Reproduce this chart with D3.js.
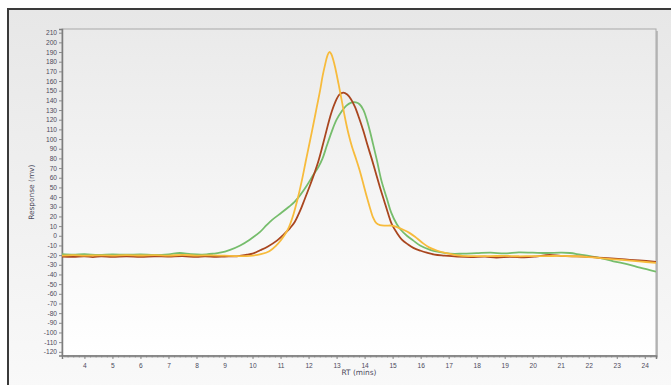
<!DOCTYPE html>
<html>
<head>
  <meta charset="utf-8">
  <style>
    body { margin: 0; background: #fff; }
    svg { display: block; font-family: "DejaVu Sans", Verdana, sans-serif; }
    .tick text { fill: #4c4a5c; font-size: 6.6px; }
    .axis-title { fill: #4c4a5c; font-size: 7.4px; }
  </style>
</head>
<body>
  <svg id="chart" width="671" height="385"></svg>

  <script src="https://d3js.org/d3.v7.min.js"></script>
  <script>
    // [RT (mins), Response (mv)]
    const yellowSeries = [
      [3.2,-20.5],[3.6,-20],[4.0,-20.6],[4.5,-20.2],[5.0,-20.5],[5.5,-20],[6.0,-20.4],[6.5,-20],
      [7.0,-20.5],[7.5,-19.8],[8.0,-20.5],[8.5,-20.2],[9.0,-20.6],[9.5,-21],[9.9,-20.8],[10.3,-19],
      [10.6,-16],[10.85,-10],[11.0,-5],[11.15,1],[11.3,9],[11.46,22],[11.6,37],[11.76,57],
      [11.9,77],[12.05,98],[12.17,115],[12.3,134],[12.41,150],[12.5,165],[12.59,177],[12.67,186],
      [12.74,190],[12.81,188],[12.88,182],[12.95,174],[13.07,157],[13.19,139],[13.3,122],[13.42,106],
      [13.55,92],[13.7,79],[13.84,66],[13.96,53],[14.08,40],[14.2,28],[14.3,19],[14.42,13],
      [14.55,11],[14.75,10.5],[14.97,10.5],[15.2,8.5],[15.4,6],[15.6,3],[15.8,-1],[16.05,-7],
      [16.3,-12],[16.6,-15.5],[16.93,-18],[17.4,-20.5],[18,-21],[18.5,-21],[19,-20.8],[19.5,-21.2],
      [20,-21],[20.5,-21],[21,-20.8],[21.5,-21.2],[22,-22],[22.6,-23.6],[23.2,-25],[23.8,-26.5],[24.4,-28]
    ];
    const brownSeries = [
      [3.2,-21.5],[3.6,-21.8],[4.0,-21.2],[4.3,-22],[4.6,-21.3],[5.0,-21.8],[5.5,-21.2],[6.0,-21.8],
      [6.5,-21.3],[7.0,-21.5],[7.5,-21],[8.0,-21.8],[8.3,-21.2],[8.7,-21.8],[9.0,-21.5],[9.5,-21],
      [9.8,-19.5],[10.0,-18.5],[10.27,-15],[10.55,-11],[10.87,-5],[11.1,1],[11.34,8],[11.5,14],
      [11.7,26],[11.85,37],[12.05,52],[12.2,64],[12.35,77],[12.5,93],[12.65,110],[12.8,126],
      [12.95,138],[13.1,146],[13.24,148],[13.38,146],[13.52,141],[13.66,133],[13.8,122],[13.96,108],
      [14.1,94],[14.26,79],[14.4,65],[14.55,50],[14.7,36],[14.85,22],[14.97,12],[15.15,3],
      [15.33,-4],[15.55,-9],[15.74,-12.5],[16.0,-15.5],[16.22,-17.5],[16.5,-19.5],[16.85,-20.5],[17.3,-21.5],
      [17.8,-22],[18.3,-21.5],[18.7,-22.5],[19.2,-21.8],[19.7,-22.3],[20.1,-21.5],[20.6,-19.8],[21.0,-20.8],
      [21.4,-21.3],[21.8,-21.5],[22.3,-22.5],[22.8,-23.5],[23.3,-24.5],[23.8,-25.5],[24.4,-27]
    ];
    const greenSeries = [
      [3.2,-19],[3.6,-19.5],[4.0,-19],[4.5,-19.8],[5.0,-19.2],[5.5,-19.6],[6.0,-19.3],[6.5,-19.8],
      [7.0,-19.2],[7.4,-17.8],[7.8,-19],[8.2,-19.5],[8.6,-18.5],[8.84,-17.5],[9.2,-14.5],[9.56,-10],
      [9.9,-4],[10.27,4],[10.5,11],[10.7,16.5],[11.04,24],[11.3,30],[11.5,35],[11.7,42],
      [11.94,52],[12.15,62],[12.35,71],[12.5,80],[12.65,93],[12.83,108],[13.0,120],[13.19,129],
      [13.35,134.5],[13.5,137.5],[13.69,138],[13.82,136],[13.96,130],[14.08,120],[14.2,107],[14.3,95],
      [14.44,78],[14.6,57],[14.8,38],[14.95,24],[15.15,12],[15.3,6],[15.51,0],[15.74,-5],
      [15.98,-10],[16.34,-14.5],[16.6,-16.5],[17.05,-18.5],[17.5,-18.5],[18.0,-18],[18.5,-17.5],[19.0,-18.2],
      [19.5,-17.2],[20.0,-17.5],[20.5,-17.8],[21.0,-17.5],[21.33,-17.8],[21.7,-19.5],[22.04,-21],[22.5,-23.5],
      [22.88,-26.4],[23.4,-29.5],[23.83,-33],[24.4,-37]
    ];
    const seriesColors = ['#f7bb3c', '#a9461f', '#76bd6c'];
    const xTicks = d3.range(4, 25);
    const yTicks = d3.range(-120, 211, 10);

    const svg = d3.select('#chart');
    const margin = { top: 29, right: 15, bottom: 29.5, left: 62 };
    const width = 671 - margin.left - margin.right;
    const height = 385 - margin.top - margin.bottom;

    const defs = svg.append('defs');
    const outerGrad = defs.append('linearGradient').attr('id', 'outerGrad')
      .attr('x1', 0).attr('y1', 0).attr('x2', 0).attr('y2', 1);
    outerGrad.append('stop').attr('offset', '0%').attr('stop-color', '#e7e7e7');
    outerGrad.append('stop').attr('offset', '100%').attr('stop-color', '#fafafa');
    const plotGrad = defs.append('linearGradient').attr('id', 'plotGrad')
      .attr('x1', 0).attr('y1', 0).attr('x2', 0).attr('y2', 1);
    plotGrad.append('stop').attr('offset', '0%').attr('stop-color', '#eaeaea');
    plotGrad.append('stop').attr('offset', '100%').attr('stop-color', '#ffffff');
    defs.append('clipPath').attr('id', 'clip')
      .append('rect').attr('width', width).attr('height', height);

    // outer panel
    svg.append('rect')
      .attr('x', 8).attr('y', 9).attr('width', 680).attr('height', 400)
      .attr('fill', 'url(#outerGrad)')
      .attr('stroke', '#3a3a3a').attr('stroke-width', 2);

    const g = svg.append('g').attr('transform', `translate(${margin.left},${margin.top})`);

    // plot area with shadow on the right
    g.append('rect')
      .attr('x', 2).attr('y', 2).attr('width', width).attr('height', height)
      .attr('fill', '#bdbdbd');
    g.append('rect')
      .attr('width', width).attr('height', height)
      .attr('fill', 'url(#plotGrad)')
      .attr('stroke', '#a8a8a8').attr('stroke-width', 1);

    const x = d3.scaleLinear().domain([3.2, 24.4]).range([0, width]);
    const y = d3.scaleLinear().domain([-123.8, 213.8]).range([height, 0]);
    const fmt = d => String(d);

    // x axis: minor then major ticks
    g.append('g')
      .attr('transform', `translate(0,${height})`)
      .call(d3.axisBottom(x).tickValues(d3.range(3.4, 24.4, 0.2)).tickSize(2).tickFormat(''))
      .call(a => a.select('.domain').remove())
      .selectAll('line').attr('stroke', '#9a9a9a');
    g.append('g')
      .attr('transform', `translate(0,${height})`)
      .call(d3.axisBottom(x).tickValues(xTicks).tickSize(3.5).tickPadding(4).tickFormat(fmt))
      .call(a => a.select('.domain').attr('stroke', '#7d7d7d').attr('stroke-width', 1.5))
      .call(a => a.selectAll('line').attr('stroke', '#8a8a8a'));

    g.append('g')
      .call(d3.axisLeft(y).tickValues(yTicks).tickSize(3).tickPadding(2).tickFormat(fmt))
      .call(a => a.select('.domain').attr('stroke', '#7d7d7d').attr('stroke-width', 1.5))
      .call(a => a.selectAll('line').attr('stroke', '#8a8a8a'));

    // series
    const line = d3.line()
      .x(d => x(d[0]))
      .y(d => y(d[1]))
      .curve(d3.curveCatmullRom.alpha(0.5));

    g.append('g').attr('clip-path', 'url(#clip)')
      .selectAll('path')
      .data([greenSeries, brownSeries, yellowSeries])
      .join('path')
      .attr('d', line)
      .attr('fill', 'none')
      .attr('stroke', (d, i) => [seriesColors[2], seriesColors[1], seriesColors[0]][i])
      .attr('stroke-width', 1.8)
      .attr('stroke-linejoin', 'round');

    // axis titles
    svg.append('text')
      .attr('class', 'axis-title')
      .attr('text-anchor', 'middle')
      .attr('transform', `translate(34,${margin.top + height / 2}) rotate(-90)`)
      .text('Response (mv)');
    svg.append('text')
      .attr('class', 'axis-title')
      .attr('text-anchor', 'middle')
      .attr('x', margin.left + width / 2)
      .attr('y', 375)
      .text('RT (mins)');
  </script>
</body>
</html>
